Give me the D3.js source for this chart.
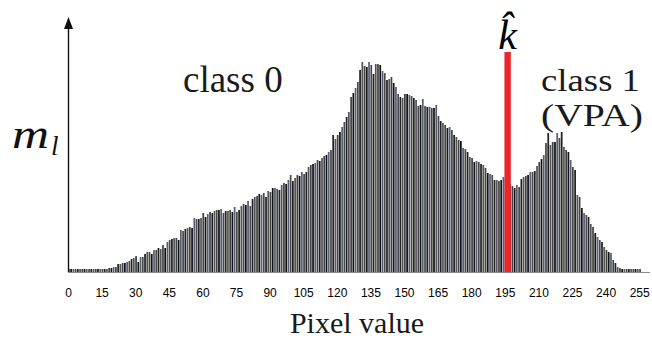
<!DOCTYPE html>
<html>
<head>
<meta charset="utf-8">
<script src="https://cdn.jsdelivr.net/npm/d3@7"></script>
<style>
  body { margin: 0; background: #fff; }
  svg { display: block; }
</style>
</head>
<body>
<svg id="canvas"></svg>
<script>
// histogram heights m_l for pixel values 0..255
const counts = [
  3, 3, 3, 3, 3, 3, 3, 3, 3, 3, 3, 3, 3, 3, 3, 3,
  3, 3, 4, 4, 5, 5, 8, 8, 9, 9, 10, 11, 13, 14, 16, 10,
  15, 15, 18, 20, 20, 18, 22, 22, 24, 23, 27, 24, 30, 32, 33, 34,
  34, 32, 42, 41, 43, 44, 45, 44, 54, 53, 53, 54, 59, 55, 58, 60,
  59, 61, 62, 62, 63, 59, 61, 61, 62, 60, 65, 60, 62, 66, 68, 67,
  71, 66, 73, 75, 76, 78, 77, 79, 75, 81, 80, 84, 84, 83, 82, 87,
  89, 88, 92, 97, 91, 94, 97, 96, 100, 98, 100, 105, 107, 108, 109, 112,
  111, 114, 116, 117, 120, 122, 137, 133, 137, 140, 145, 150, 155, 160, 175, 179,
  184, 190, 202, 210, 206, 205, 210, 207, 198, 208, 208, 207, 201, 199, 192, 193,
  195, 189, 185, 178, 175, 174, 178, 178, 177, 176, 174, 172, 166, 167, 173, 166,
  165, 165, 164, 164, 167, 156, 151, 149, 147, 144, 145, 142, 137, 135, 132, 131,
  124, 123, 120, 115, 114, 110, 111, 110, 108, 107, 104, 99, 98, 97, 92, 92,
  91, 92, 95, 92, 90, 88, 86, 84, 87, 85, 93, 95, 96, 97, 100, 100,
  101, 106, 110, 113, 117, 129, 139, 127, 130, 130, 139, 134, 140, 125, 122, 120,
  112, 105, 102, 77, 75, 64, 59, 57, 55, 48, 45, 39, 35, 32, 30, 25,
  22, 20, 19, 12, 9, 5, 4, 3, 3, 3, 3, 3, 3, 3, 3, 3
];

const pixelValues = d3.range(0, 256);
const tickValues = d3.range(0, 256, 15);

const kHat = 196;       // threshold
const kHatHeight = 220; // drawn taller than every bar

const width = 652;
const height = 342;

const svg = d3.select("#canvas").attr("width", width).attr("height", height);

const xScale = d3.scaleLinear().domain([0, 256]).range([68, 68 + 256 * 2.24]);
const yScale = d3.scaleLinear().domain([0, 220]).range([272, 52]);

const barColors = ["#444444", "#141414", "#5a5f78", "#4a4a4a", "#222222", "#55555e"];

// bars
svg.append("g")
  .selectAll("rect")
  .data(pixelValues)
  .enter()
  .append("rect")
  .attr("x", (d) => xScale(d))
  .attr("width", 1.75)
  .attr("y", (d) => yScale(counts[d]))
  .attr("height", (d) => yScale(0) - yScale(counts[d]))
  .attr("fill", (d) => barColors[d % barColors.length]);

// threshold bar
svg.append("rect")
  .attr("x", xScale(kHat) - 2.6)
  .attr("width", 6.4)
  .attr("y", yScale(kHatHeight))
  .attr("height", yScale(0) - yScale(kHatHeight))
  .attr("fill", "#e8262e");

// x axis
const xAxis = d3.axisBottom(xScale)
  .tickValues(tickValues)
  .tickSize(0)
  .tickPadding(16)
  .tickFormat(d3.format("d"));

const gx = svg.append("g")
  .attr("transform", `translate(0, ${yScale(0)})`)
  .call(xAxis);
gx.select(".domain").attr("stroke", "#8a8a8a").attr("stroke-width", 1)
  .attr("d", `M${xScale(0)},0.5H650`);
gx.selectAll("text")
  .attr("font-family", "Liberation Sans, Arial, sans-serif")
  .attr("font-size", 12)
  .attr("fill", "#000");

// y axis with arrow
svg.append("line")
  .attr("x1", 68.5).attr("x2", 68.5)
  .attr("y1", yScale(0)).attr("y2", 26)
  .attr("stroke", "#111").attr("stroke-width", 1.4);
svg.append("path")
  .attr("d", "M68.5,17 L64,29 L73,29 Z")
  .attr("fill", "#111");

const serif = "Liberation Serif, Times New Roman, serif";

// labels
const ml = svg.append("text").attr("x", 12).attr("y", 148)
  .attr("font-family", serif).attr("font-style", "italic").attr("fill", "#111");
ml.append("tspan").attr("font-size", 42)
  .attr("textLength", 37).attr("lengthAdjust", "spacingAndGlyphs")
  .text("m");
ml.append("tspan").attr("x", 51).attr("y", 155).attr("font-size", 27).text("l");

svg.append("text").attr("x", 183).attr("y", 92)
  .attr("font-family", serif).attr("font-size", 37).attr("fill", "#1a1a1a")
  .text("class 0");

const c1 = svg.append("text")
  .attr("font-family", serif).attr("font-size", 31).attr("fill", "#1a1a1a");
c1.append("tspan").attr("x", 541).attr("y", 91)
  .attr("textLength", 99).attr("lengthAdjust", "spacingAndGlyphs")
  .text("class 1");
c1.append("tspan").attr("x", 541).attr("y", 126)
  .attr("textLength", 102).attr("lengthAdjust", "spacingAndGlyphs")
  .text("(VPA)");

svg.append("text").attr("x", xScale(kHat) + 0.6).attr("y", 49)
  .attr("text-anchor", "middle")
  .attr("font-family", serif).attr("font-style", "italic").attr("font-size", 42)
  .text("k\u0302");

svg.append("text").attr("x", 357).attr("y", 333)
  .attr("text-anchor", "middle")
  .attr("font-family", serif).attr("font-size", 30).attr("fill", "#1a1a1a")
  .text("Pixel value");
</script>
</body>
</html>
